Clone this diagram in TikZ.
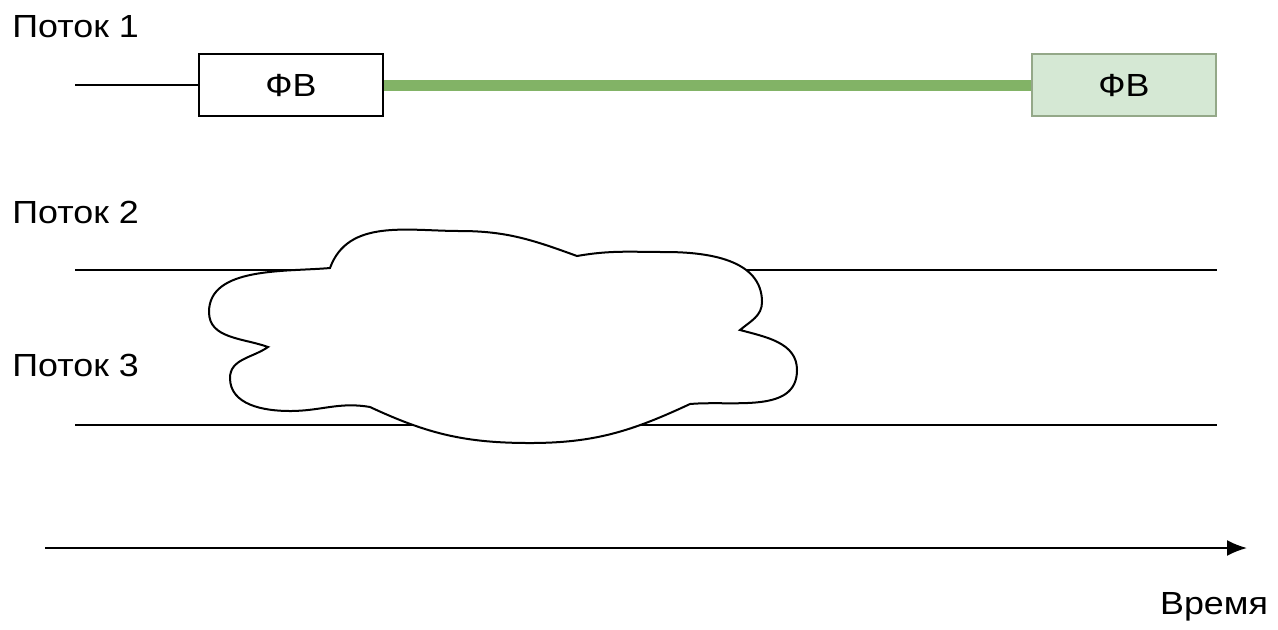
\documentclass[tikz,border=0pt]{standalone}
\usepackage{fontspec}
\setmainfont{Liberation Sans}[FakeStretch=1.12]
\usetikzlibrary{arrows.meta}
\definecolor{fvfill}{HTML}{D5E8D4}
\definecolor{fvdraw}{HTML}{94A888}
\definecolor{fvline}{HTML}{82B366}

\begin{document}
\begin{tikzpicture}[x=0.5pt, y=0.5pt, >=Latex,
    flow/.style={line width=1pt},
    flowname/.style={anchor=west, inner sep=0pt, font=\fontsize{16}{18}\selectfont},
    fvbox/.style={draw, line width=1pt, minimum width=92pt, minimum height=31pt, inner sep=0pt, font=\fontsize{16}{18}\selectfont}]
    \useasboundingbox (0,0) rectangle (1278,-629);

    % flow 1
    \node[flowname] (p1) at (12,-27) {Поток 1};
    \node[fvbox] (fv1) at (291,-85) {ФВ};
    \node[fvbox, fill=fvfill, draw=fvdraw] (fv2) at (1124,-85) {ФВ};
    \coordinate (s1) at (75,-85);
    \draw[flow] (s1) -- (fv1.west);
    \draw[line width=5.5pt, fvline] (fv1.east) -- (fv2.west);

    % flows 2 and 3
    \node[flowname] (p2) at (12,-212) {Поток 2};
    \node[flowname] (p3) at (12,-365) {Поток 3};
    \coordinate (s2) at (75,-270);
    \coordinate (e2) at (1217,-270);
    \coordinate (s3) at (75,-425);
    \coordinate (e3) at (1217,-425);
    \draw[flow] (s2) -- (e2);
    \draw[flow] (s3) -- (e3);

    % cloud over flows 2 and 3
    \draw[flow, fill=white] (330,-268)
        to[out=70, in=180] (460,-231)
        to[out=0, in=160] (577,-256)
        to[out=10, in=180] (665,-252)
        to[out=0, in=90] (762,-302)
        to[out=-90, in=40] (740,-330)
        to[out=-15, in=90] (797,-370)
        to[out=-90, in=5] (690,-404)
        to[out=-155, in=0] (530,-443)
        to[out=180, in=-25] (370,-407)
        to[out=170, in=0] (290,-411)
        to[out=180, in=-90] (230,-378)
        to[out=90, in=215] (268,-347)
        to[out=160, in=-90] (209,-312)
        to[out=90, in=185, looseness=0.9] cycle;

    % time axis
    \coordinate (t0) at (45,-548);
    \coordinate (t1) at (1247,-548);
    \draw[->, line width=1pt, arrows={-Latex[length=10pt, width=8pt]}] (t0) -- (t1);
    \node[font=\fontsize{16}{18}\selectfont] (tm) at (1214,-607) {Время};
\end{tikzpicture}
\end{document}
